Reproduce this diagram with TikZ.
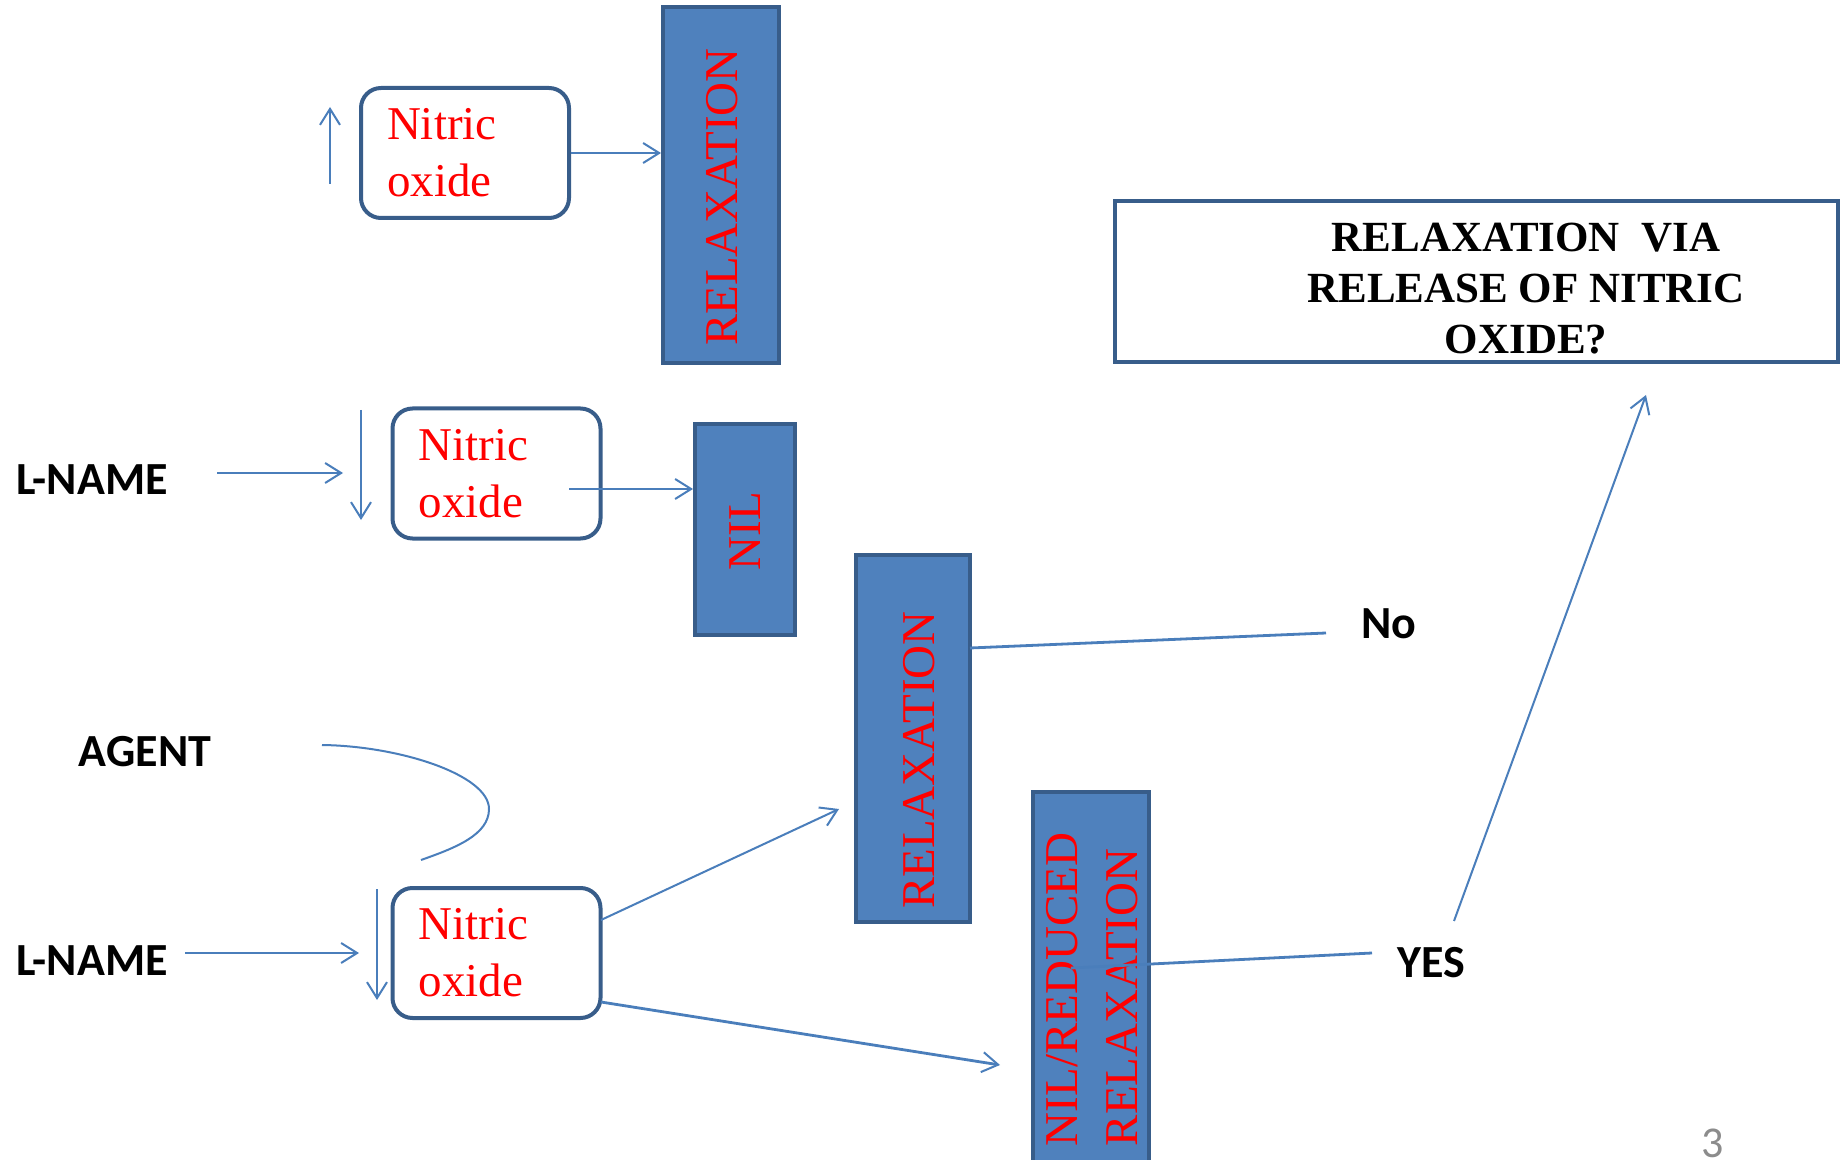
\documentclass[tikz,border=0pt]{standalone}
\usepackage{fontspec}
\setmainfont{Liberation Serif}
\newfontfamily\calfont{Carlito}
\usetikzlibrary{arrows.meta}
\definecolor{fillblue}{HTML}{4F81BD}
\definecolor{edgeblue}{HTML}{385D8A}
\definecolor{lineblue}{HTML}{4A7EBB}
\definecolor{numgray}{HTML}{8C8C8C}
\begin{document}
\begin{tikzpicture}[x=0.5pt,y=-0.5pt,
  bar/.style={draw=edgeblue, fill=fillblue, line width=2pt, inner sep=0pt},
  nobox/.style={draw=edgeblue, line width=2pt, rounded corners=10pt, fill=white, text=red, align=left, text width=78pt, inner xsep=13pt, inner ysep=0pt, minimum height=65pt, font=\fontsize{23.5}{28.5}\selectfont},
  bartext/.style={text=red, rotate=90, inner sep=0pt, font=\fontsize{23.5}{30}\selectfont},
  lab/.style={font=\calfont\bfseries\fontsize{23}{27}\selectfont, inner sep=0pt},
  arr/.style={draw=lineblue, line width=1pt, -{Straight Barb[length=8pt,width=10pt,line width=1pt]}},
  ln/.style={draw=lineblue, line width=1.4pt},
]
\useasboundingbox (0,0) rectangle (1842,1160);

% bars
\node[bar, minimum width=58pt, minimum height=178pt] (bar1) at (721,185) {};
\node[bartext] (bar1t) at (722,197) {RELAXATION};
\node[bar, minimum width=50pt, minimum height=105.5pt] (bar2) at (745,529.5) {};
\node[bartext] (bar2t) at (745,531) {NIL};
\node[bar, minimum width=57pt, minimum height=183.5pt] (bar3) at (913,738.5) {};
\node[bartext] (bar3t) at (919,760) {RELAXATION};
\node[bar, minimum width=58pt, minimum height=189pt] (bar4) at (1091,981) {};
\node[bartext, align=left] (bar4t) at (1092,989.5) {NIL/REDUCED\\RELAXATION};

% nitric oxide boxes
\node[nobox] (no1) at (465,153) {Nitric\\oxide};
\node[nobox] (no2) at (496.5,473.5) {Nitric\\oxide};
\node[nobox] (no3) at (496.5,953) {Nitric\\oxide};

% title box
\node[draw=edgeblue, line width=2pt, minimum width=361.5pt, minimum height=80.5pt, inner sep=0pt] (tbox) at (1476.5,281.5) {};
\node[align=center, inner sep=0pt, font=\bfseries\fontsize{21.5}{25.5}\selectfont] (ttl) at (1526,288.5) {RELAXATION\ \ VIA\\RELEASE OF NITRIC\\OXIDE?};

% labels
\node[lab] (ln1) at (92,480) {L-NAME};
\node[lab] (ag) at (145,752) {AGENT};
\node[lab] (ln2) at (92,961) {L-NAME};
\node[lab] (no) at (1389,624) {No};
\node[lab] (yes) at (1431,963) {YES};
\node[font=\calfont\fontsize{22}{26}\selectfont, text=numgray, inner sep=0pt] (pg) at (1713,1143) {3};

% free-end coordinates
\coordinate (u1a) at (330,184);
\coordinate (u1b) at (330,107);
\coordinate (l1a) at (217,473);
\coordinate (l1b) at (343,473);
\coordinate (d2a) at (361,410);
\coordinate (d2b) at (361,520);
\coordinate (n2a) at (569,489);
\coordinate (l2a) at (185,953);
\coordinate (l2b) at (359,953);
\coordinate (d3a) at (377,889);
\coordinate (d3b) at (377,1000);
\coordinate (c1) at (322,745);
\coordinate (c2) at (489,809);
\coordinate (c3) at (421,860);
\coordinate (r3a) at (601,920);
\coordinate (r3b) at (839,809);
\coordinate (r4a) at (601,1002);
\coordinate (r4b) at (1000,1065);
\coordinate (noa) at (970,648);
\coordinate (nob) at (1326,633);
\coordinate (yesa) at (1071,968);
\coordinate (yesb) at (1372,953);
\coordinate (ta) at (1454,921);
\coordinate (tb) at (1646,395);

% connectors
\draw[arr] (u1a) -- (u1b);
\draw[arr, line width=1.4pt] (no1.east) -- (no1.east -| bar1.west);
\draw[arr] (l1a) -- (l1b);
\draw[arr] (d2a) -- (d2b);
\draw[arr, line width=1.4pt] (n2a) -- (n2a -| bar2.west);
\draw[ln, line width=1pt] (c1) .. controls (400,746) and (489,775) .. (c2) .. controls (489,835) and (455,848) .. (c3);
\draw[arr] (l2a) -- (l2b);
\draw[arr] (d3a) -- (d3b);
\draw[arr] (r3a) -- (r3b);
\draw[arr, line width=1.4pt] (r4a) -- (r4b);
\draw[ln] (noa) -- (nob);
\draw[ln] (yesa) -- (yesb);
\draw[arr] (ta) -- (tb);
\end{tikzpicture}
\end{document}
